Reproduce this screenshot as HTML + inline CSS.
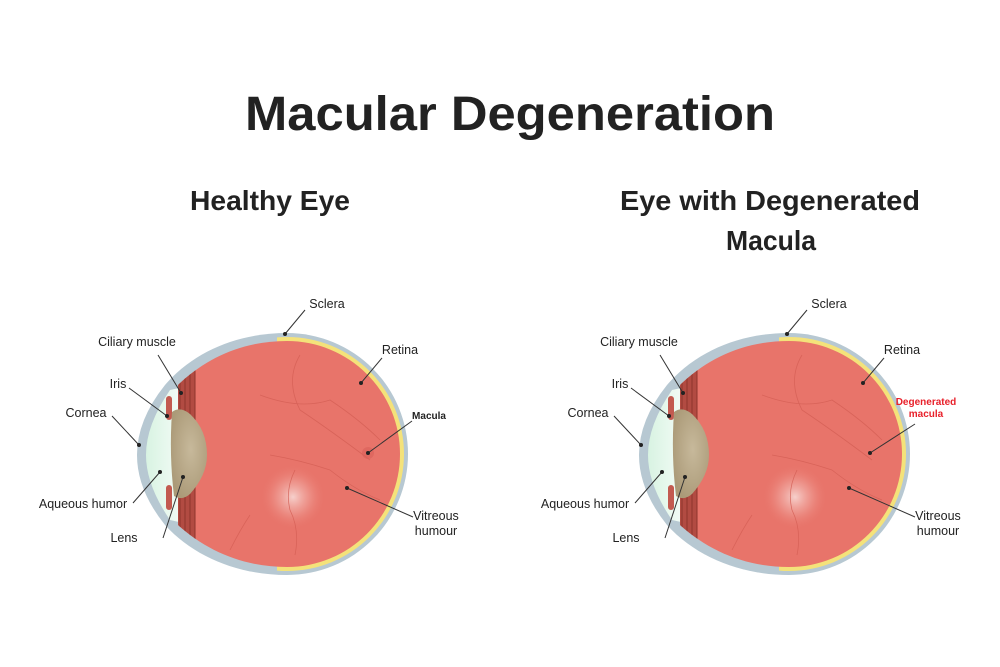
<!DOCTYPE html>
<html><head><meta charset="utf-8"><style>
html,body{margin:0;padding:0;background:#fff}
svg{display:block}
text{font-family:"Liberation Sans",sans-serif;fill:#222}
</style></head><body>
<svg width="1000" height="667" viewBox="0 0 1000 667" xmlns="http://www.w3.org/2000/svg">
<defs>
<radialGradient id="glow" cx="0.5" cy="0.5" r="0.5"><stop offset="0" stop-color="#f6d0cc"/><stop offset="0.5" stop-color="#f0a49c" stop-opacity="0.6"/><stop offset="1" stop-color="#ea7a6f" stop-opacity="0"/></radialGradient>
<radialGradient id="lensg" cx="0.55" cy="0.45" r="0.6"><stop offset="0" stop-color="#c7b99b"/><stop offset="1" stop-color="#ab9a78"/></radialGradient>
<linearGradient id="aq" x1="0" x2="1"><stop offset="0" stop-color="#d8f3e2"/><stop offset="1" stop-color="#f2fbf5"/></linearGradient>
<clipPath id="inner"><path d="M287 341 A113 113 0 0 1 287 567 C245 567 208 552 178 525 L178 385 C208 356 245 341 287 341 Z"/></clipPath>
<clipPath id="rightHalf"><rect x="277" y="320" width="200" height="270"/></clipPath>
<g id="eye">
  <path d="M287 333 A121 121 0 0 1 287 575 C240 575 195 558 165 525 Q137 490 137 455 Q137 420 165 385 C195 350 240 333 287 333 Z" fill="#b7c8d2"/>
  <circle cx="287" cy="454" r="117" fill="#f4e27a" clip-path="url(#rightHalf)"/>
  <path d="M170 390 Q146 425 146 455 Q146 485 170 520 L179 522 L179 388 Z" fill="url(#aq)"/>
  <g clip-path="url(#inner)">
    <rect x="175" y="330" width="240" height="250" fill="#e8746a"/>
    <rect x="175" y="330" width="20" height="250" fill="#b24b42"/>
    <line x1="180" y1="330" x2="180" y2="580" stroke="#8e342c" stroke-width="1"/>
    <line x1="185" y1="330" x2="185" y2="580" stroke="#8e342c" stroke-width="1"/>
    <line x1="190" y1="330" x2="190" y2="580" stroke="#8e342c" stroke-width="1"/>
    <line x1="195" y1="330" x2="195" y2="580" stroke="#8e342c" stroke-width="1"/>
    <circle cx="293" cy="497" r="32" fill="url(#glow)"/>
    <g fill="none" stroke="#d45f55" stroke-width="0.8" opacity="0.8">
      <path d="M260 395 Q300 410 330 400 Q360 420 380 440"/>
      <path d="M300 355 Q285 380 300 410 Q330 430 370 460"/>
      <path d="M270 455 Q300 460 330 470 Q355 490 380 500"/>
      <path d="M295 470 Q285 490 290 510 Q300 530 295 555"/>
      <path d="M250 515 Q240 530 230 550"/>
    </g>
  </g>
  <rect x="166" y="396" width="6" height="24" rx="3" fill="#c35a50"/>
  <rect x="166" y="485" width="6" height="25" rx="3" fill="#c35a50"/>
  <path d="M172 412 Q169 455 174 496 Q182 501 190 494 Q207 475 207 455 Q207 430 190 414 Q180 406 172 412 Z" fill="url(#lensg)"/>
</g>
<g id="lines" stroke="#333" stroke-width="1" fill="none">
  <line x1="305" y1="310" x2="285" y2="334"/>
  <line x1="158" y1="355" x2="181" y2="393"/>
  <line x1="129" y1="388" x2="167" y2="416"/>
  <line x1="112" y1="416" x2="139" y2="445"/>
  <line x1="133" y1="503" x2="160" y2="472"/>
  <line x1="163" y1="538" x2="183" y2="477"/>
  <line x1="382" y1="358" x2="361" y2="383"/>
  <line x1="413" y1="517" x2="347" y2="488"/>
</g>
<g id="dots" fill="#222">
  <circle cx="285" cy="334" r="2"/><circle cx="181" cy="393" r="2"/><circle cx="167" cy="416" r="2"/>
  <circle cx="139" cy="445" r="2"/><circle cx="160" cy="472" r="2"/><circle cx="183" cy="477" r="2"/>
  <circle cx="361" cy="383" r="2"/><circle cx="347" cy="488" r="2"/>
</g>
</defs>

<text x="245" y="130" font-size="48" font-weight="bold" textLength="530" lengthAdjust="spacingAndGlyphs" fill="#111">Macular Degeneration</text>
<text x="190" y="210" font-size="28" font-weight="bold" textLength="160" lengthAdjust="spacingAndGlyphs" fill="#111">Healthy Eye</text>
<text x="620" y="210" font-size="28" font-weight="bold" textLength="300" lengthAdjust="spacingAndGlyphs" fill="#111">Eye with Degenerated</text>
<text x="726" y="250" font-size="28" font-weight="bold" textLength="90" lengthAdjust="spacingAndGlyphs" fill="#111">Macula</text>

<use href="#eye"/>
<circle cx="368" cy="453" r="6" fill="#d9605a" opacity="0.6"/>
<use href="#lines"/>
<use href="#dots"/>
<line x1="412" y1="421" x2="368" y2="453" stroke="#333" stroke-width="1"/>
<circle cx="368" cy="453" r="2" fill="#222"/>
<g font-size="12.5">
<text x="327" y="308" text-anchor="middle">Sclera</text>
<text x="137" y="346" text-anchor="middle">Ciliary muscle</text>
<text x="118" y="388" text-anchor="middle">Iris</text>
<text x="86" y="417" text-anchor="middle">Cornea</text>
<text x="83" y="508" text-anchor="middle">Aqueous humor</text>
<text x="124" y="542" text-anchor="middle">Lens</text>
<text x="400" y="354" text-anchor="middle">Retina</text>
<text x="436" y="520" text-anchor="middle">Vitreous</text>
<text x="436" y="535" text-anchor="middle">humour</text>
</g>
<text x="429" y="419" font-size="10" font-weight="bold" text-anchor="middle">Macula</text>

<g transform="translate(502,0)">
<use href="#eye"/>
<use href="#lines"/>
<use href="#dots"/>
<line x1="413" y1="424" x2="368" y2="453" stroke="#333" stroke-width="1"/>
<circle cx="368" cy="453" r="2" fill="#222"/>
<g font-size="12.5">
<text x="327" y="308" text-anchor="middle">Sclera</text>
<text x="137" y="346" text-anchor="middle">Ciliary muscle</text>
<text x="118" y="388" text-anchor="middle">Iris</text>
<text x="86" y="417" text-anchor="middle">Cornea</text>
<text x="83" y="508" text-anchor="middle">Aqueous humor</text>
<text x="124" y="542" text-anchor="middle">Lens</text>
<text x="400" y="354" text-anchor="middle">Retina</text>
<text x="436" y="520" text-anchor="middle">Vitreous</text>
<text x="436" y="535" text-anchor="middle">humour</text>
</g>
<text x="424" y="405" font-size="10" font-weight="bold" text-anchor="middle" style="fill:#e8202a">Degenerated</text>
<text x="424" y="417" font-size="10" font-weight="bold" text-anchor="middle" style="fill:#e8202a">macula</text>
</g>
</svg>
</body></html>
